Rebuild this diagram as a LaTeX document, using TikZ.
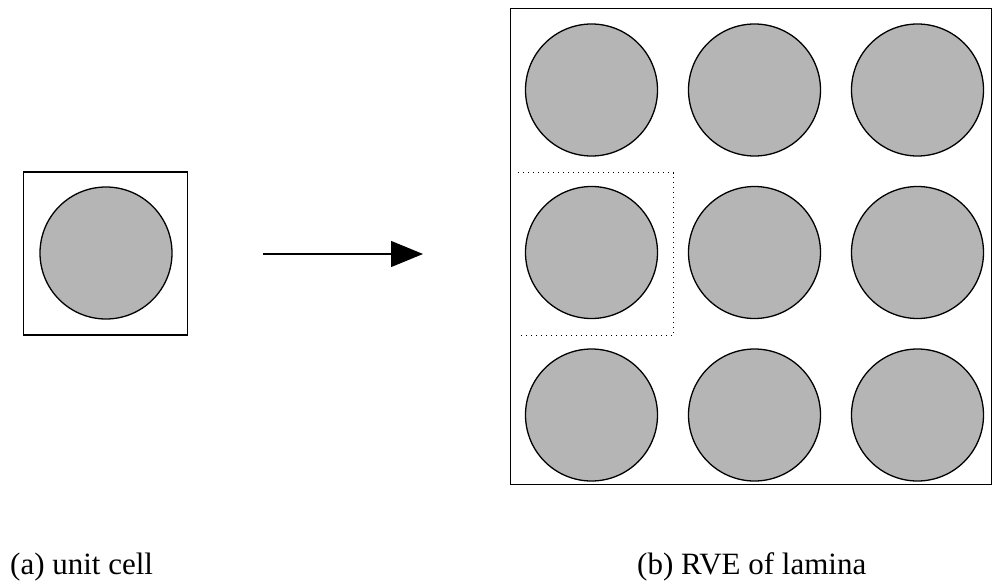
\documentclass[tikz,border=0pt]{standalone}
\usepackage{fontspec}
\setmainfont{Liberation Serif}
\usetikzlibrary{arrows.meta}
\definecolor{fibre}{RGB}{181,181,181}
\tikzset{
  cellframe/.style={draw=black, line width=1.2pt, fill=none},
  fibrecircle/.style={circle, draw=black, line width=1.3pt, fill=fibre,
    minimum size=132pt, inner sep=0pt},
  cellborder/.style={line width=1.2pt, dash pattern=on 1.3pt off 3.7pt},
  maparrow/.style={line width=1.2pt, -{Triangle[length=32pt, width=26pt]}},
  caption/.style={font=\fontsize{31}{36}\selectfont, anchor=base west, inner sep=0pt}
}
\begin{document}
\begin{tikzpicture}[x=1pt, y=-1pt]
  \useasboundingbox (0,0) rectangle (993,586);

  % single unit cell
  \node[draw=black, line width=1.2pt, minimum width=164pt, minimum height=163pt,
        inner sep=0pt] (unit) at (105.5,253.5) {};
  \node[fibrecircle] (unitfibre) at (106,253) {};

  % mapping arrow
  \coordinate (arrstart) at (263,254);
  \coordinate (arrend) at (423,254);
  \draw[maparrow] (arrstart) -- (arrend);

  % representative volume element
  \node[cellframe, draw, minimum width=481pt, minimum height=476pt, inner sep=0pt,
        anchor=north west] (rve) at (510,8) {};
  \foreach \r in {0,1,2}{
    \foreach \c in {0,1,2}{
      \node[fibrecircle] (f\r\c) at (591.5+163*\c, 90+162.5*\r) {};
    }
  }

  % repeating cell outline inside the RVE
  \coordinate (dA) at (518,172.5);
  \coordinate (dB) at (673.5,172.5);
  \coordinate (dC) at (673.5,335.5);
  \coordinate (dD) at (518,335.5);
  \draw[cellborder] (dA) -- (dB) -- (dC) -- (dD);

  % captions
  \node[caption] (capa) at (10,574) {(a) unit cell};
  \node[caption] (capb) at (637,574) {(b) RVE of lamina};
\end{tikzpicture}
\end{document}
